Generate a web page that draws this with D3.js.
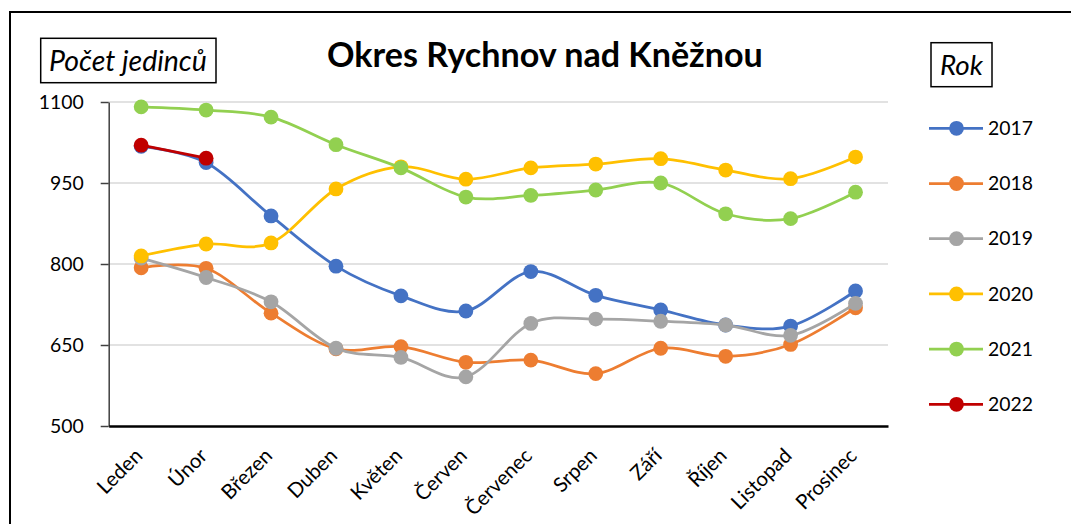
<!DOCTYPE html>
<html>
<head>
<meta charset="utf-8">
<script src="https://cdn.jsdelivr.net/npm/d3@7"></script>
<style>
  body { margin: 0; background: #fff; }
  svg { display: block; font-family: Lato, "Open Sans", sans-serif; }
</style>
</head>
<body>
<div id="my_dataviz"></div>
<script>
'use strict'

// Data
var months = ["Leden", "Únor", "Březen", "Duben", "Květen", "Červen", "Červenec", "Srpen", "Září", "Říjen", "Listopad", "Prosinec"]
var years = ["2017", "2018", "2019", "2020", "2021", "2022"]
var colors = ["#4472C4", "#ED7D31", "#A5A5A5", "#FFC000", "#92D050", "#C00000"]
var yTicks = [500, 650, 800, 950, 1100]

var v2017 = [1018, 988, 889, 796, 741, 713, 786, 742, 715, 687, 685, 750]
var v2018 = [793, 792, 709, 643, 647, 618, 622, 597, 644, 629, 651, 719]
var v2019 = [811, 775, 730, 644, 627, 591, 690, 698, 694, 687, 668, 727]
var v2020 = [815, 837, 839, 939, 980, 957, 978, 985, 995, 974, 958, 998]
var v2021 = [1091, 1085, 1072, 1021, 978, 924, 927, 937, 950, 893, 884, 933]
var v2022 = [1020, 996]

var seriesValues = [v2017, v2018, v2019, v2020, v2021, v2022]

// 1. svg
var width = 1071
var height = 524
var plot = {left: 108.7, right: 888, top: 102, bottom: 426}

const svg = d3.select("#my_dataviz")
              .append("svg")
              .attr("width", width)
              .attr("height", height)

// sets the font size so the text is as wide as in the picture
function fit(sel, target) {
    var w = sel.node().getComputedTextLength()
    var fs = parseFloat(sel.style("font-size"))
    sel.style("font-size", (fs * target / w) + "px")
    return fs * target / w
}

// chart border (cut by the window on the right and bottom)
svg.append("rect")
   .attr("x", 10)
   .attr("y", 12)
   .attr("width", 1200)
   .attr("height", 700)
   .attr("fill", "none")
   .attr("stroke", "#000")
   .attr("stroke-width", 2)

// 2. scales
var xScale = d3.scalePoint()
               .domain(months)
               .range([plot.left, plot.right])
               .padding(0.5)

var yScale = d3.scaleLinear()
               .domain([500, 1100])
               .range([plot.bottom, plot.top])

// label size taken from the width of "2017"
var probe = svg.append("text").style("font-size", "100px").text("2017")
var labelSize = 100 * 45 / probe.node().getComputedTextLength()
probe.remove()

// 3. gridlines
svg.append("g")
   .selectAll("line")
   .data(yTicks.filter((d) => d > 500))
   .enter()
   .append("line")
   .attr("x1", plot.left)
   .attr("x2", plot.right)
   .attr("y1", (d) => yScale(d))
   .attr("y2", (d) => yScale(d))
   .attr("stroke", "#d9d9d9")
   .attr("stroke-width", 1.5)

// 4. axes
var yAxis = d3.axisLeft(yScale)
              .tickValues(yTicks)
              .tickFormat(d3.format("d"))
              .tickSizeInner(8)
              .tickSizeOuter(0)
              .tickPadding(17)
var yG = svg.append("g")
            .attr("transform", "translate(" + plot.left + ",0)")
            .call(yAxis)
yG.select(".domain").attr("stroke", "#404040").attr("stroke-width", 1.5)
yG.selectAll(".tick line").attr("stroke", "#404040").attr("stroke-width", 1.5)
yG.selectAll(".tick text")
  .attr("fill", "#000")
  .style("font-family", "Lato, sans-serif")
  .style("font-size", labelSize + "px")

var xAxis = d3.axisBottom(xScale).tickSize(0).tickSizeOuter(0)
var xG = svg.append("g")
            .attr("transform", "translate(0," + plot.bottom + ")")
            .call(xAxis)
xG.select(".domain").attr("stroke", "#000").attr("stroke-width", 2.5)
xG.selectAll(".tick text")
  .attr("fill", "#000")
  .attr("text-anchor", "end")
  .attr("y", 0)
  .attr("dy", 0)
  .attr("transform", "translate(2,31) rotate(-45)")
  .style("font-family", "Lato, sans-serif")
  .style("font-size", labelSize * 1.05 + "px")

// 5. series, each line drawn with its markers
var line = d3.line()
             .x((d, i) => xScale(months[i]))
             .y((d) => yScale(d))
             .curve(d3.curveCatmullRom.alpha(0))

seriesValues.forEach(function(vals, k) {
    var g = svg.append("g")
    g.append("path")
     .attr("d", line(vals))
     .attr("fill", "none")
     .attr("stroke", colors[k])
     .attr("stroke-width", 2.75)
     .attr("stroke-linejoin", "round")
    g.selectAll("circle")
     .data(vals)
     .enter()
     .append("circle")
     .attr("cx", (d, i) => xScale(months[i]))
     .attr("cy", (d) => yScale(d))
     .attr("r", 7.4)
     .attr("fill", colors[k])
})

// 6. title, axis title and legend
var title = svg.append("text")
               .attr("x", 327)
               .attr("y", 67)
               .style("font-weight", "bold")
               .style("font-size", "30px")
               .text("Okres Rychnov nad Kněžnou")
fit(title, 436)

svg.append("rect")
   .attr("x", 40.7)
   .attr("y", 38.3)
   .attr("width", 175.3)
   .attr("height", 44.4)
   .attr("fill", "none")
   .attr("stroke", "#000")
   .attr("stroke-width", 1.5)
var yTitle = svg.append("text")
                .attr("x", 49)
                .attr("y", 71)
                .style("font-style", "italic")
                .style("font-size", "24px")
                .text("Počet jedinců")
fit(yTitle, 158)

svg.append("rect")
   .attr("x", 931)
   .attr("y", 42.7)
   .attr("width", 61)
   .attr("height", 44)
   .attr("fill", "none")
   .attr("stroke", "#000")
   .attr("stroke-width", 1.5)
var rok = svg.append("text")
             .attr("x", 940)
             .attr("y", 75)
             .style("font-style", "italic")
             .style("font-size", "26px")
             .text("Rok")
fit(rok, 43)

var legend = svg.selectAll("legendRows")
                .data(years)
                .enter()
                .append("g")
                .attr("transform", (d, i) => "translate(0," + (128.3 + i * 55.2) + ")")

legend.append("line")
      .attr("x1", 929)
      .attr("x2", 983)
      .attr("stroke", (d, i) => colors[i])
      .attr("stroke-width", 2.75)
legend.append("circle")
      .attr("cx", 956.5)
      .attr("r", 7.4)
      .attr("fill", (d, i) => colors[i])
legend.append("text")
      .attr("x", 988)
      .attr("dy", "0.35em")
      .style("font-size", labelSize + "px")
      .text((d) => d)
</script>
</body>
</html>
